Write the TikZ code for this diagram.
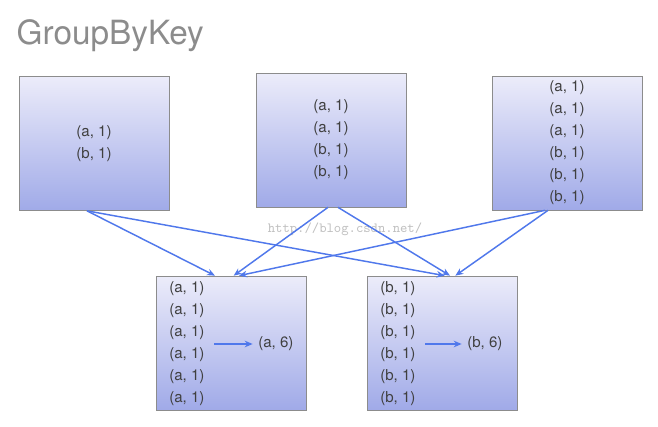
\documentclass[tikz,border=0pt]{standalone}
\usepackage{fontspec}
\setmainfont{TeX Gyre Heros}
\usetikzlibrary{arrows.meta}
\begin{document}
\begin{tikzpicture}[x=0.75pt,y=-0.75pt,
 box/.style={draw=black!45,line width=0.5pt,top color={rgb,255:red,236;green,236;blue,250},bottom color={rgb,255:red,160;green,170;blue,232},minimum width=150*0.75pt,minimum height=134*0.75pt,inner sep=0pt},
 txt/.style={font=\fontsize{11.3pt}{16.5pt}\selectfont,text=black!75,align=left,inner sep=0pt},
 arr/.style={draw={rgb,255:red,80;green,120;blue,235},line width=1.1pt,-{Stealth[length=6pt,width=5pt]}}]
\useasboundingbox (0,0) rectangle (658,426);
\node[font=\fontsize{25pt}{27pt}\selectfont,text=black!45,anchor=west] (title) at (12,36) {GroupByKey};
\node[box] (t1) at (94,143.5) {};
\node[box] (t2) at (331,140) {};
\node[box] (t3) at (567,143) {};
\node[box] (b1) at (231,343) {};
\node[box] (b2) at (442,343) {};
\node[txt] at (t1) {(a, 1)\\(b, 1)};
\node[txt] at (t2) {(a, 1)\\(a, 1)\\(b, 1)\\(b, 1)};
\node[txt] at (t3) {(a, 1)\\(a, 1)\\(a, 1)\\(b, 1)\\(b, 1)\\(b, 1)};
\node[txt,anchor=west] (c1) at (169,344) {(a, 1)\\(a, 1)\\(a, 1)\\(a, 1)\\(a, 1)\\(a, 1)};
\node[txt,anchor=west] (c2) at (380,344) {(b, 1)\\(b, 1)\\(b, 1)\\(b, 1)\\(b, 1)\\(b, 1)};
\node[txt,anchor=west] (r1) at (258,344) {(a, 6)};
\node[txt,anchor=west] (r2) at (467,344) {(b, 6)};
\coordinate (s1) at (214,344); \coordinate (s2) at (425,344);
\draw[arr] (s1) -- ([xshift=-4pt]r1.west);
\draw[arr] (s2) -- ([xshift=-4pt]r2.west);
\node[font=\fontsize{10.5pt}{12pt}\ttfamily,text=black!25] (wm) at (345,229) {http://blog.csdn.net/};
\draw[arr] (t1.south)++(-7,0) -- ([xshift=-12pt]b1.north);
\draw[arr] (t1.south)++(-7,0) -- ([xshift=2pt]b2.north);
\draw[arr] (t2.south)++(-3,0) -- ([xshift=2pt]b1.north);
\draw[arr] (t2.south)++(7,0) -- ([xshift=6pt]b2.north);
\draw[arr] (t3.south)++(-22,0) -- ([xshift=6pt]b1.north);
\draw[arr] (t3.south)++(-19,0) -- ([xshift=10pt]b2.north);
\end{tikzpicture}
\end{document}
